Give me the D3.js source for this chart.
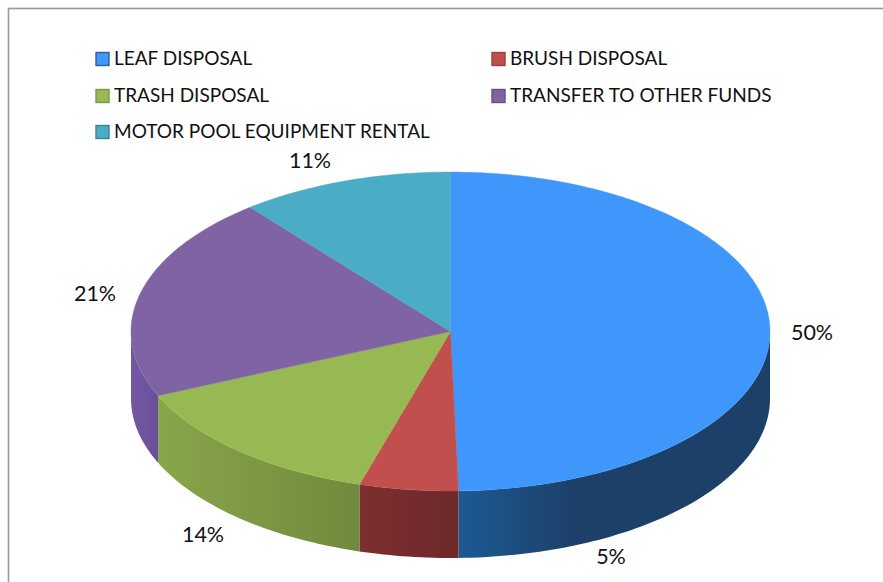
<!DOCTYPE html>
<html><head><meta charset="utf-8">
<script src="https://cdn.jsdelivr.net/npm/d3@7"></script>
<style>html,body{margin:0;padding:0;background:#fff;overflow:hidden}svg{display:block}text{font-family:Lato,"Open Sans",sans-serif;fill:#111}</style>
</head><body><svg id="c" width="883" height="582"></svg>
<script>
const categories = ["LEAF DISPOSAL","BRUSH DISPOSAL","TRASH DISPOSAL","TRANSFER TO OTHER FUNDS","MOTOR POOL EQUIPMENT RENTAL"];
const shares = [49.6,5,13.8,20.8,10.8];
const tickLabels = ["50%","5%","14%","21%","11%"];
const topColors = ["#3f97fb","#c0504d","#97b952","#8064a2","#4bacc6"];
const wallLight = ["#1f5a94","#7d2e2e","#88a64a","#7357a5","#3f8ca0"];
const wallDark = ["#1a4068","#6e2a2c","#6f8a3c","#6a4f98","#3f8ca0"];
const wallStop = [0.62,0,0,0,0];
const legendBorder = ["#2f5f96","#a03f3c","#7a9a42","#66508a","#36879c"];
const labelPos = [[812,335],[611,559],[203,537],[95,296],[310,163]];
const legendPos = [[96,59],[492,59],[96,96],[492,96],[96,132]];

const svg = d3.select("#c");
const cx=450.5, cy=331.5, rx=319.5, ry=159.5, depth=67;
const sx=d3.scaleLinear().domain([-1,1]).range([cx-rx,cx+rx]);
const sy=d3.scaleLinear().domain([-1,1]).range([cy-ry,cy+ry]);
const pie=d3.pie().sort(null).value(d=>d)(shares);
const px=a=>sx(Math.sin(a)), py=a=>sy(-Math.cos(a));
const samples=(a,b)=>{const n=Math.max(2,Math.ceil((b-a)/0.02));return d3.range(n+1).map(i=>a+(b-a)*i/n);};

const defs=svg.append("defs");
const f=defs.append("filter").attr("id","soft").attr("x","-5%").attr("y","-5%").attr("width","110%").attr("height","110%");
f.append("feGaussianBlur").attr("stdDeviation",0.6);

svg.append("rect").attr("x",8.5).attr("y",8.5).attr("width",900).attr("height",600)
 .attr("fill","#fff").attr("stroke","#9a9a9a").attr("stroke-width",1.6);

const chart=svg.append("g").attr("filter","url(#soft)");
const line=d3.line();
pie.forEach((d,i)=>{
  const a=Math.max(d.startAngle,Math.PI/2), b=Math.min(d.endAngle,Math.PI*1.5);
  if(b<=a) return;
  const s=samples(a,b);
  const pts=s.map(t=>[px(t),py(t)]).concat(s.slice().reverse().map(t=>[px(t),py(t)+depth]));
  const id="w"+i;
  const g=defs.append("linearGradient").attr("id",id).attr("gradientUnits","userSpaceOnUse")
    .attr("x1",px(a)).attr("x2",px(b)).attr("y1",0).attr("y2",0);
  g.append("stop").attr("offset",wallStop[i]).attr("stop-color",wallDark[i]);
  g.append("stop").attr("offset",1).attr("stop-color",wallLight[i]);
  chart.append("path").attr("d",line(pts)+"Z").attr("fill","url(#"+id+")");
});
pie.forEach((d,i)=>{
  const s=samples(d.startAngle,d.endAngle);
  const pts=[[sx(0),sy(0)]].concat(s.map(t=>[px(t),py(t)]));
  chart.append("path").attr("d",line(pts)+"Z").attr("fill",topColors[i])
    .attr("stroke",topColors[i]).attr("stroke-width",0.4);
});

tickLabels.forEach((t,i)=>{
  svg.append("text").attr("x",labelPos[i][0]).attr("y",labelPos[i][1]).attr("text-anchor","middle")
    .attr("dominant-baseline","middle").attr("font-size",21.5).text(t);
});
categories.forEach((c,i)=>{
  const [x,y]=legendPos[i];
  svg.append("rect").attr("x",x).attr("y",y-6.5).attr("width",13).attr("height",13)
    .attr("fill",topColors[i]).attr("stroke",legendBorder[i]).attr("stroke-width",1.4);
  svg.append("text").attr("x",x+18).attr("y",y+1).attr("dominant-baseline","middle")
    .attr("font-size",19).text(c);
});
</script></body></html>
